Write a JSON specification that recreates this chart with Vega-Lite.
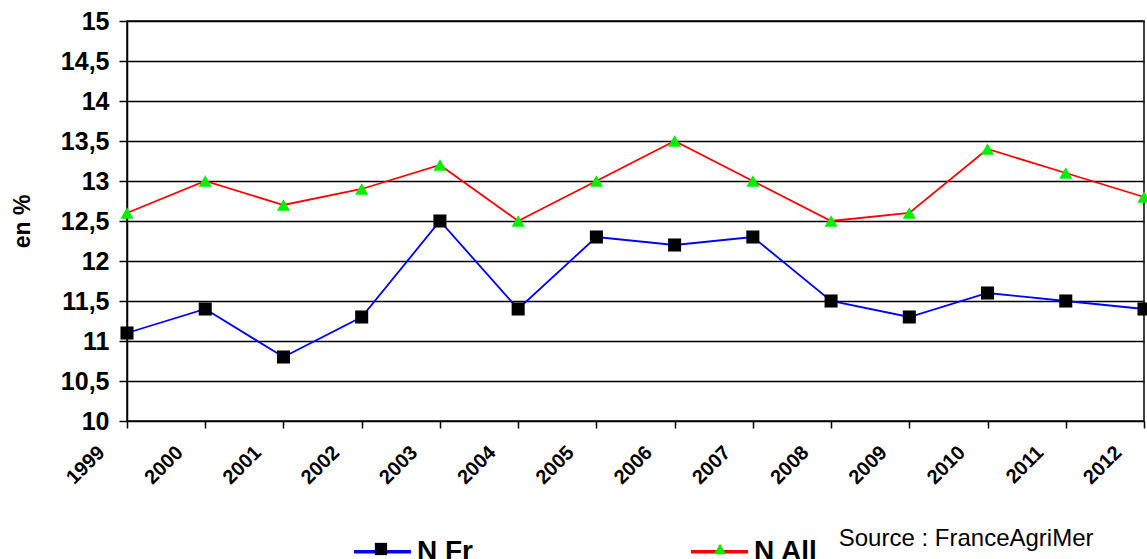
{
  "$schema": "https://vega.github.io/schema/vega-lite/v6.json",
  "width": 1017,
  "height": 400,
  "autosize": {"type": "none"},
  "padding": {"left": 127, "top": 21, "right": 3, "bottom": 138},
  "background": "white",
  "config": {
    "font": "Liberation Sans",
    "view": {"stroke": "black", "strokeWidth": 1.5},
    "axis": {"labelColor": "black", "titleColor": "black", "domainColor": "black", "tickColor": "black"}
  },
  "data": {
    "values": [
      {"year": 1999, "series": "N Fr", "value": 11.1},
      {"year": 2000, "series": "N Fr", "value": 11.4},
      {"year": 2001, "series": "N Fr", "value": 10.8},
      {"year": 2002, "series": "N Fr", "value": 11.3},
      {"year": 2003, "series": "N Fr", "value": 12.5},
      {"year": 2004, "series": "N Fr", "value": 11.4},
      {"year": 2005, "series": "N Fr", "value": 12.3},
      {"year": 2006, "series": "N Fr", "value": 12.2},
      {"year": 2007, "series": "N Fr", "value": 12.3},
      {"year": 2008, "series": "N Fr", "value": 11.5},
      {"year": 2009, "series": "N Fr", "value": 11.3},
      {"year": 2010, "series": "N Fr", "value": 11.6},
      {"year": 2011, "series": "N Fr", "value": 11.5},
      {"year": 2012, "series": "N Fr", "value": 11.4},
      {"year": 1999, "series": "N All", "value": 12.6},
      {"year": 2000, "series": "N All", "value": 13.0},
      {"year": 2001, "series": "N All", "value": 12.7},
      {"year": 2002, "series": "N All", "value": 12.9},
      {"year": 2003, "series": "N All", "value": 13.2},
      {"year": 2004, "series": "N All", "value": 12.5},
      {"year": 2005, "series": "N All", "value": 13.0},
      {"year": 2006, "series": "N All", "value": 13.5},
      {"year": 2007, "series": "N All", "value": 13.0},
      {"year": 2008, "series": "N All", "value": 12.5},
      {"year": 2009, "series": "N All", "value": 12.6},
      {"year": 2010, "series": "N All", "value": 13.4},
      {"year": 2011, "series": "N All", "value": 13.1},
      {"year": 2012, "series": "N All", "value": 12.8}
    ]
  },
  "encoding": {
    "x": {
      "field": "year",
      "type": "quantitative",
      "scale": {"domain": [1999, 2012], "nice": false, "zero": false},
      "axis": {
        "title": "Source : FranceAgriMer",
        "titleFontSize": 24,
        "titleFontWeight": "normal",
        "titleAlign": "right",
        "titleBaseline": "alphabetic",
        "titleX": 966,
        "titleY": 124,
        "values": [1999, 2000, 2001, 2002, 2003, 2004, 2005, 2006, 2007, 2008, 2009, 2010, 2011, 2012],
        "format": "d",
        "grid": false,
        "domain": false,
        "tickSize": 7,
        "tickWidth": 1.5,
        "labelAngle": -45,
        "labelAlign": "right",
        "labelBaseline": "top",
        "labelOffset": -33,
        "labelPadding": 14,
        "labelFontSize": 20,
        "labelFontWeight": "bold",
        "labelFlush": false,
        "labelOverlap": false
      }
    },
    "y": {
      "field": "value",
      "type": "quantitative",
      "scale": {"domain": [10, 15], "nice": false, "zero": false},
      "axis": {
        "title": "en %",
        "titleFontSize": 23,
        "titleFontWeight": "bold",
        "titlePadding": 26,
        "values": [10, 10.5, 11, 11.5, 12, 12.5, 13, 13.5, 14, 14.5, 15],
        "labelExpr": "replace(format(datum.value, '.1~f'), '.', ',')",
        "grid": true,
        "gridColor": "black",
        "gridWidth": 1.5,
        "gridOpacity": 1,
        "domainWidth": 1.5,
        "tickSize": 8,
        "tickWidth": 1.5,
        "labelPadding": 10,
        "labelFontSize": 25,
        "labelFontWeight": "bold",
        "labelFlush": false,
        "labelOverlap": false
      }
    }
  },
  "layer": [
    {
      "mark": {"type": "line", "strokeWidth": 1.8},
      "encoding": {
        "color": {
          "field": "series",
          "type": "nominal",
          "scale": {"domain": ["N Fr", "N All"], "range": ["#0000ff", "#ff0000"]},
          "legend": {
            "orient": "none",
            "legendX": 225,
            "legendY": 500,
            "direction": "horizontal",
            "title": null,
            "padding": 0,
            "symbolType": "stroke",
            "symbolSize": 3249,
            "symbolStrokeWidth": 3.5,
            "labelFontSize": 28,
            "labelFontWeight": "bold",
            "labelColor": "black",
            "labelOffset": 4,
            "columnPadding": 211
          }
        }
      }
    },
    {
      "mark": {"type": "point", "filled": true, "size": 170, "opacity": 1, "strokeWidth": 0},
      "encoding": {
        "shape": {
          "field": "series",
          "type": "nominal",
          "sort": "descending",
          "scale": {"range": ["square", "triangle-up"]},
          "legend": {
            "orient": "none",
            "legendX": 240,
            "legendY": 514,
            "direction": "horizontal",
            "title": null,
            "padding": 0,
            "symbolSize": 150,
            "symbolStrokeWidth": 0,
            "symbolOpacity": 1,
            "labelFontSize": 28,
            "labelFontWeight": "bold",
            "labelOpacity": 0,
            "labelOffset": 46,
            "columnPadding": 209
          }
        },
        "fill": {
          "field": "series",
          "type": "nominal",
          "sort": "descending",
          "scale": {"range": ["#000000", "#00ee00"]}
        }
      }
    }
  ]
}
